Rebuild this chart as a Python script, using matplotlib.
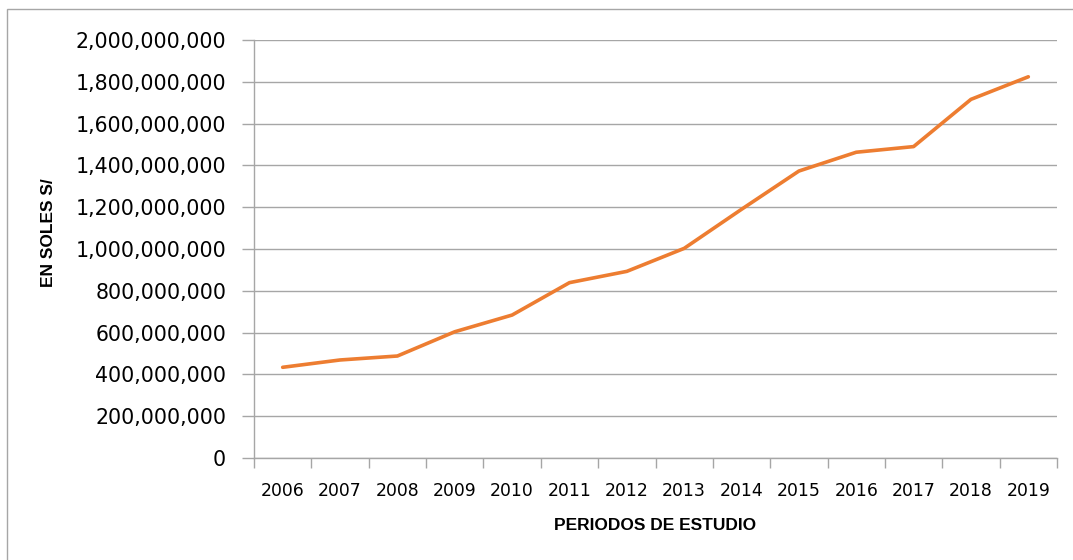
import matplotlib.pyplot as plt
from matplotlib.ticker import FuncFormatter, MultipleLocator, FixedLocator
from matplotlib.patches import Rectangle

## Data
years = ['2006', '2007', '2008', '2009', '2010', '2011', '2012',
         '2013', '2014', '2015', '2016', '2017', '2018', '2019']
soles = [434e6, 469e6, 488e6, 604e6, 684e6, 839e6, 893e6,
         1003e6, 1190e6, 1373e6, 1463e6, 1490e6, 1716e6, 1824e6]

grey = '#A6A6A6'
orange = '#ED7D31'

fig = plt.figure(figsize=(10.73, 5.6), dpi=100)
# outer chart border (runs off the right/bottom of the picture)
fig.patches.append(Rectangle((7/1073, -0.05), 1.2, 1 - 9/560 + 0.05,
                             transform=fig.transFigure, fill=False,
                             edgecolor=grey, linewidth=1))

ax = fig.add_axes([254/1073, 102/560, 803/1073, 418/560])
x = range(len(years))
ax.plot(x, soles, color=orange, linewidth=2.6, solid_capstyle='round',
        zorder=3)

## Axes
ax.set_xlim(-0.5, len(years) - 0.5)
ax.set_ylim(0, 2e9)
ax.yaxis.set_major_locator(MultipleLocator(2e8))
ax.yaxis.set_major_formatter(FuncFormatter(lambda v, p: f'{v:,.0f}'))
ax.xaxis.set_major_locator(FixedLocator([i - 0.5 for i in range(len(years) + 1)]))
ax.xaxis.set_major_formatter(FuncFormatter(lambda v, p: ''))
ax.set_xticks(list(x), years, minor=True)

ax.grid(axis='y', color=grey, linewidth=1)
ax.set_axisbelow(True)
for s in ['top', 'right']:
    ax.spines[s].set_visible(False)
for s in ['left', 'bottom']:
    ax.spines[s].set_color(grey)
    ax.spines[s].set_linewidth(1)

ax.tick_params(axis='y', which='major', length=9, width=1, color=grey,
               pad=11, labelsize=14.8, labelcolor='black')
ax.tick_params(axis='x', which='major', length=7, width=1, color=grey)
ax.tick_params(axis='x', which='minor', length=0, pad=17,
               labelsize=12.4, labelcolor='black')

ax.set_xlabel('PERIODOS DE ESTUDIO', fontfamily='Liberation Sans',
              fontweight='bold', fontsize=12.5, labelpad=13)
ax.set_ylabel('EN SOLES S/', fontfamily='Liberation Sans',
              fontweight='bold', fontsize=12.5)
ax.yaxis.set_label_coords(-198/803, (458 - 233)/418)

fig.savefig('out.png', dpi=100)
